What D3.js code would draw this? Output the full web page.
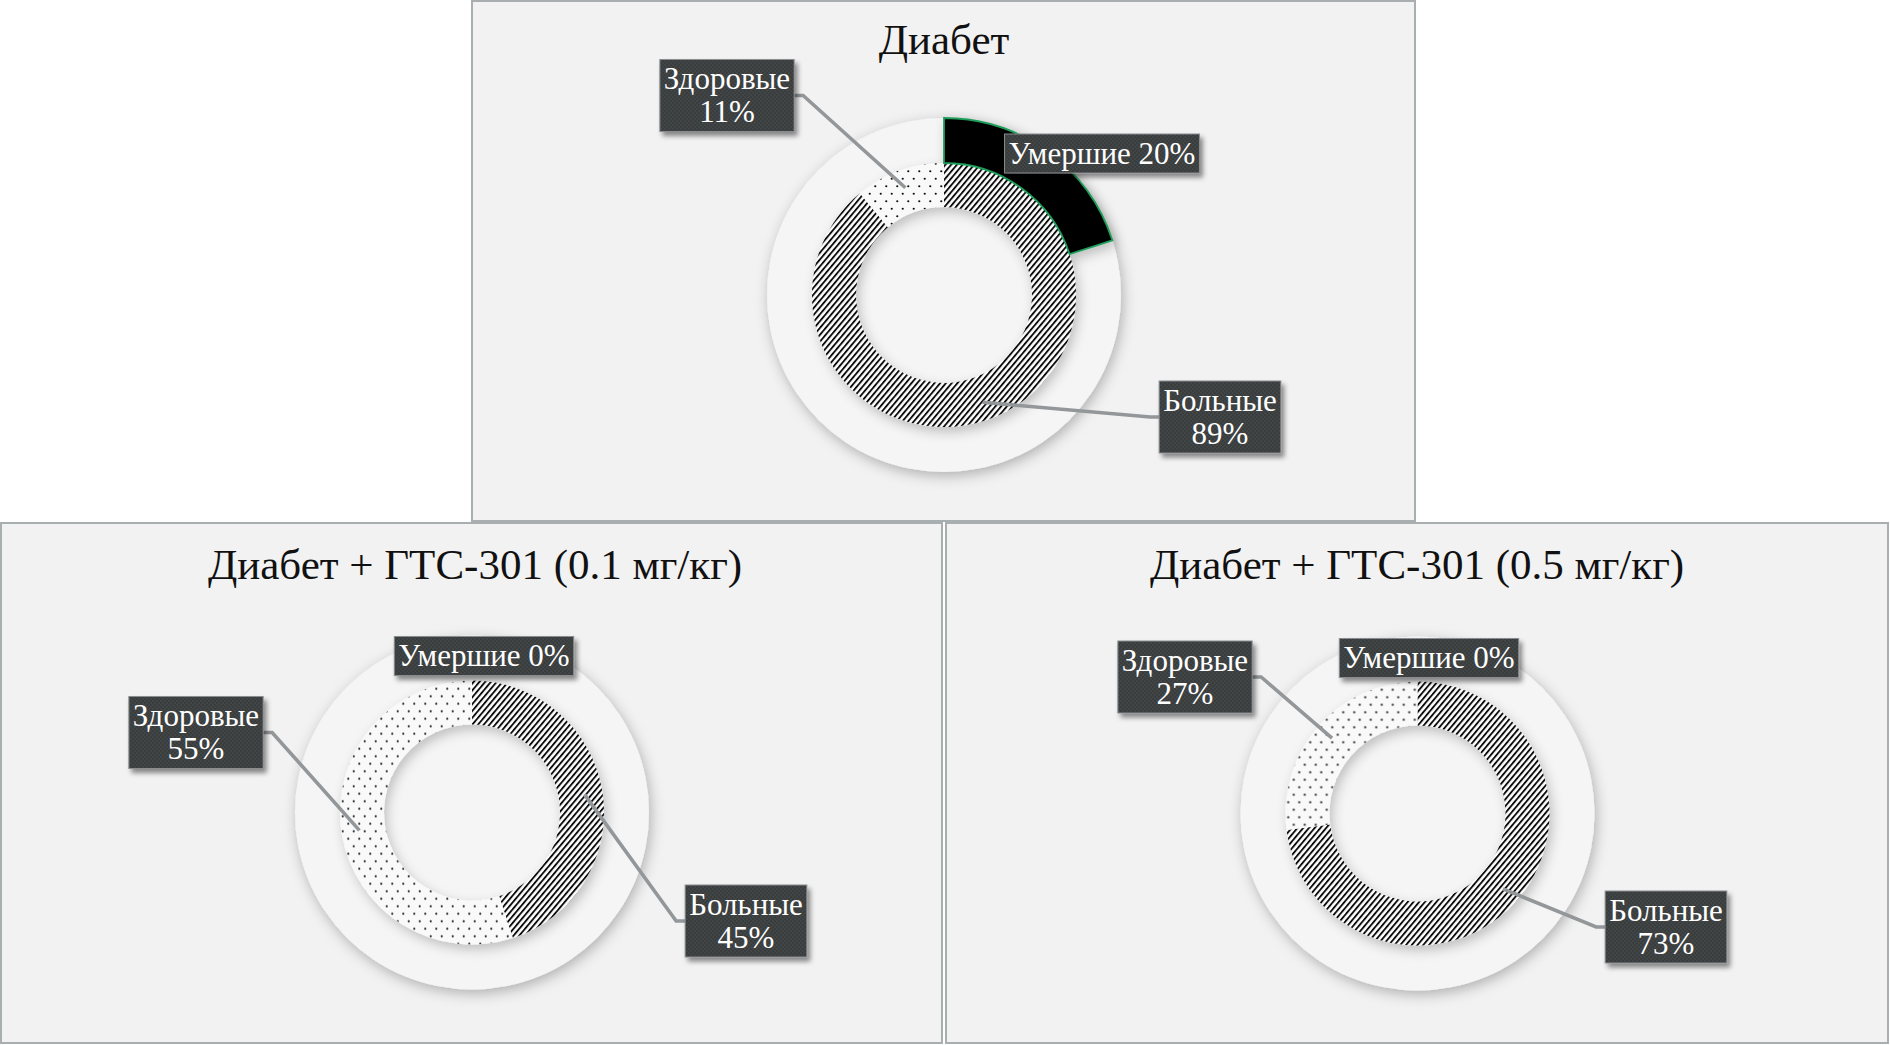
<!DOCTYPE html>
<html><head><meta charset="utf-8">
<script src="https://cdn.jsdelivr.net/npm/d3@7"></script>
<style>html,body{margin:0;padding:0;background:#fff;}svg{display:block;}</style>
</head><body>
<svg id="chart" width="1890" height="1045"></svg>
<script>
// ---- data ----
const panelTitles = ["Диабет", "Диабет + ГТС-301 (0.1 мг/кг)", "Диабет + ГТС-301 (0.5 мг/кг)"];
const categories = ["Больные", "Здоровые"];
const sickValues = [89, 45, 73];
const healthyValues = [11, 55, 27];
const deadLabel = "Умершие";
const deadValues = [20, 0, 0];

// ---- layout ----
const panelBoxes = [
  {x: 471, y: 0, w: 945, h: 522},
  {x: 0, y: 522, w: 943, h: 522},
  {x: 945, y: 522, w: 944, h: 522}
];
const donutCenters = [[944, 295], [472, 812.5], [1417.5, 813.5]];
const titlePos = [[944, 54], [475, 579], [1417, 579]];
const labelPos = [
  {dead: [1102, 153.5], sick: [1220, 417], healthy: [727, 95.5]},
  {dead: [484, 656], sick: [746, 921], healthy: [196, 732.5]},
  {dead: [1429, 658], sick: [1666, 927], healthy: [1185, 677]}
];
const R_OUT = 177, R_MID = 132, R_IN = 88;

const svg = d3.select("#chart");
const defs = svg.append("defs");

// patterns
const hatch = defs.append("pattern").attr("id", "hatch").attr("patternUnits", "userSpaceOnUse")
  .attr("width", 4.4).attr("height", 10).attr("patternTransform", "rotate(40)");
hatch.append("rect").attr("width", 4.4).attr("height", 10).attr("fill", "#ffffff");
hatch.append("rect").attr("x", 0).attr("width", 1.9).attr("height", 10).attr("fill", "#111");

const dots = defs.append("pattern").attr("id", "dots").attr("patternUnits", "userSpaceOnUse")
  .attr("width", 11).attr("height", 15);
dots.append("rect").attr("width", 11).attr("height", 15).attr("fill", "#f9f9f9");
dots.append("circle").attr("cx", 2.75).attr("cy", 3.75).attr("r", 1.1).attr("fill", "#111");
dots.append("circle").attr("cx", 8.25).attr("cy", 11.25).attr("r", 1.1).attr("fill", "#111");

const boxTex = defs.append("pattern").attr("id", "boxtex").attr("patternUnits", "userSpaceOnUse")
  .attr("width", 4).attr("height", 4);
boxTex.append("rect").attr("width", 4).attr("height", 4).attr("fill", "#3a3d3e");
boxTex.append("circle").attr("cx", 1).attr("cy", 1).attr("r", 0.8).attr("fill", "#4a4e50");
boxTex.append("circle").attr("cx", 3).attr("cy", 3).attr("r", 0.8).attr("fill", "#4a4e50");

function shadow(id, dx, dy, sd, op) {
  const f = defs.append("filter").attr("id", id).attr("x", "-30%").attr("y", "-30%").attr("width", "160%").attr("height", "160%");
  f.append("feDropShadow").attr("dx", dx).attr("dy", dy).attr("stdDeviation", sd)
    .attr("flood-color", "#000").attr("flood-opacity", op);
}
shadow("discShadow", 2, 4, 7, 0.28);
shadow("ringShadow", 3, 5, 6, 0.22);
shadow("boxShadow", 3, 4, 2.5, 0.45);

const pie = d3.pie().sort(null).value(d => d.value);
const innerArc = d3.arc().innerRadius(R_IN).outerRadius(R_MID);
const outerArc = d3.arc().innerRadius(R_MID).outerRadius(R_OUT);
const centroidArc = d3.arc().innerRadius(R_IN + 4).outerRadius(R_MID + 4);

const fontFamily = "'Liberation Serif', 'Times New Roman', serif";

function drawLabel(g, cx, cy, lines) {
  const lg = g.append("g");
  const t = lg.append("text").attr("font-family", fontFamily).attr("font-size", 31)
    .attr("fill", "#fff").attr("text-anchor", "middle");
  const lh = 33;
  const n = lines.length;
  lines.forEach((s, i) => {
    t.append("tspan").attr("x", cx).attr("y", cy + (i - (n - 1) / 2) * lh + 10).text(s);
  });
  const bb = t.node().getBBox();
  const w = Math.max(bb.width + 8, 60);
  const h = n * lh + 6;
  lg.insert("rect", "text").attr("x", cx - w / 2).attr("y", cy - h / 2).attr("width", w).attr("height", h)
    .attr("fill", "url(#boxtex)").attr("stroke", "#8a8d8f").attr("stroke-width", 1)
    .attr("filter", "url(#boxShadow)");
  return {x0: cx - w / 2, x1: cx + w / 2, y: cy};
}

panelTitles.forEach((title, i) => {
  const pb = panelBoxes[i];
  const g = svg.append("g");
  g.append("rect").attr("x", pb.x + 1).attr("y", pb.y + 1).attr("width", pb.w - 2).attr("height", pb.h - 2)
    .attr("fill", "#f2f2f2").attr("stroke", "#a9aeb1").attr("stroke-width", 2);
  g.append("text").attr("x", titlePos[i][0]).attr("y", titlePos[i][1])
    .attr("text-anchor", "middle").attr("font-family", fontFamily).attr("font-size", 43)
    .attr("fill", "#111").text(title);

  const [cx, cy] = donutCenters[i];
  const dg = g.append("g").attr("transform", `translate(${cx},${cy})`);
  dg.append("circle").attr("r", R_OUT).attr("fill", "#f5f5f5").attr("filter", "url(#discShadow)");

  const innerData = [
    {name: categories[0], value: sickValues[i], fill: "url(#hatch)"},
    {name: categories[1], value: healthyValues[i], fill: "url(#dots)"}
  ];
  const outerData = [
    {name: deadLabel, value: deadValues[i]},
    {name: "", value: 100 - deadValues[i]}
  ];
  const ringG = dg.append("g").attr("filter", "url(#ringShadow)");
  const innerPie = pie(innerData);
  ringG.selectAll("path.inner").data(innerPie).join("path").attr("class", "inner")
    .attr("d", innerArc).attr("fill", d => d.data.fill);
  const outerPie = pie(outerData);
  ringG.selectAll("path.outer").data(outerPie.filter(d => d.index === 0 && d.data.value > 0)).join("path")
    .attr("class", "outer").attr("d", outerArc).attr("fill", "#000")
    .attr("stroke", "#1f9e5a").attr("stroke-width", 1.8).attr("stroke-linejoin", "miter");

  // leader lines (above donut, below boxes)
  const lp = labelPos[i];
  const lineG = g.append("g");
  const boxG = g.append("g");
  innerPie.forEach(d => {
    const key = d.index === 0 ? "sick" : "healthy";
    const [lx, ly] = lp[key];
    const [ax, ay] = centroidArc.centroid(d);
    const box = drawLabel(boxG, lx, ly, [d.data.name, d.data.value + "%"]);
    const left = lx < cx;
    const ex = left ? box.x1 : box.x0;
    const hx = left ? ex + 9 : ex - 9;
    lineG.append("path").attr("d", d3.line()([[ex, ly], [hx, ly], [cx + ax, cy + ay]]))
      .attr("fill", "none").attr("stroke", "#939799").attr("stroke-width", 3.6);
  });
  drawLabel(boxG, lp.dead[0], lp.dead[1], [deadLabel + " " + deadValues[i] + "%"]);
});
</script>
</body></html>
